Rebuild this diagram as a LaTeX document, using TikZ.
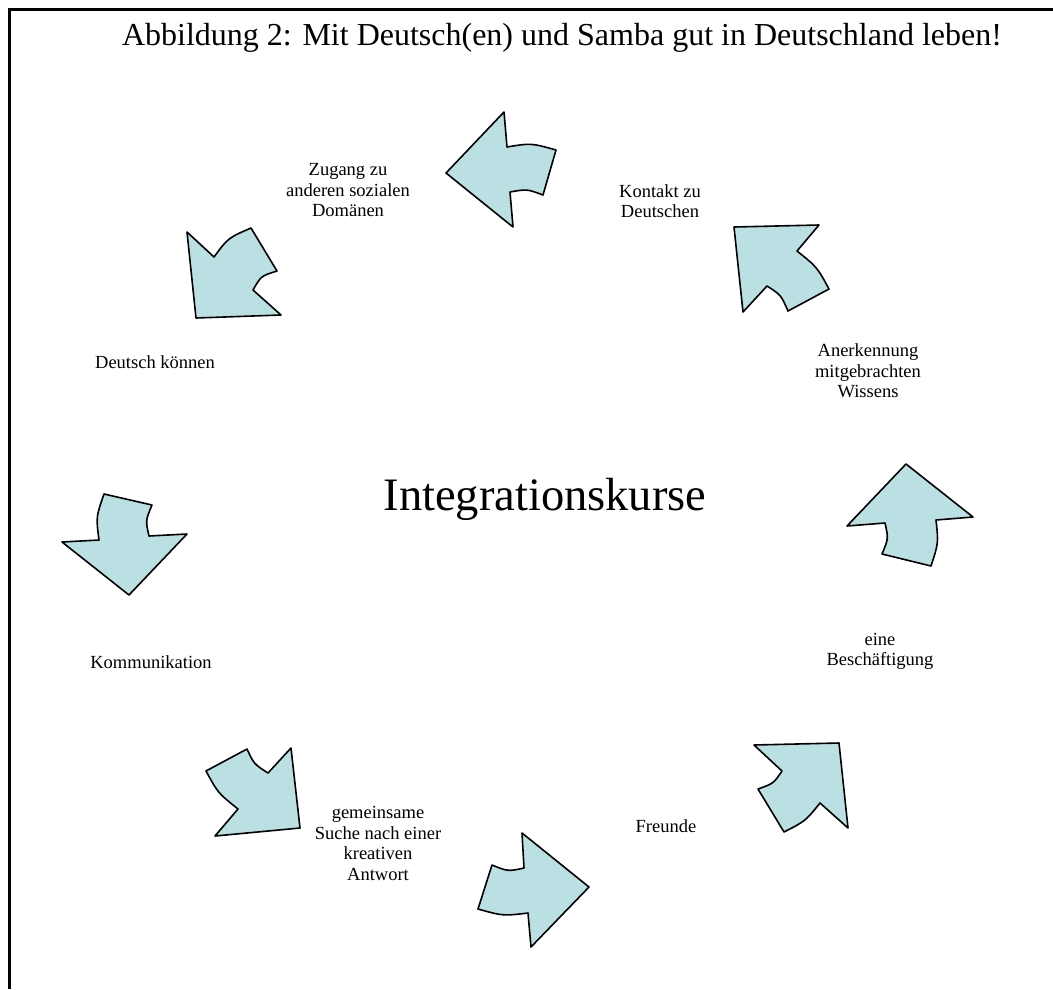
\documentclass[tikz,border=0pt]{standalone}
\usepackage{fontspec}
\setmainfont{Liberation Serif}
\definecolor{arrowfill}{RGB}{186,224,228}
\begin{document}
\begin{tikzpicture}[x=1pt,y=-1pt,
  blockarrow/.style={draw=black, fill=arrowfill, line width=1.6pt, line join=round},
  lbl/.style={align=center, inner sep=0pt, font=\fontsize{18.5}{20.5}\selectfont},
  frame/.style={line width=3pt}]
\useasboundingbox (0,0) rectangle (1053,989);
\fill[white] (0,0) rectangle (1053,989);
\draw[frame] (9,989) -- (9,9) -- (1053,9);

\node[anchor=base, inner sep=0pt, font=\fontsize{32}{36}\selectfont] (title) at (562,45)
  {Abbildung 2: Mit Deutsch(en) und Samba gut in Deutschland leben!};
\node[anchor=base, inner sep=0pt, font=\fontsize{46.5}{52}\selectfont] (center) at (545,510)
  {Integrationskurse};

% labels
\node[lbl] (zugang) at (348,190.5) {Zugang zu\\anderen sozialen\\Domänen};
\node[lbl] (kontakt) at (660,201) {Kontakt zu\\Deutschen};
\node[lbl] (deutsch) at (155,362) {Deutsch können};
\node[lbl] (anerkennung) at (868,371) {Anerkennung\\mitgebrachten\\Wissens};
\node[lbl] (kommunikation) at (151,662) {Kommunikation};
\node[lbl] (beschaeftigung) at (880,651.5) {eine\\Beschäftigung};
\node[lbl] (suche) at (378,843.5) {gemeinsame\\Suche nach einer\\kreativen\\Antwort};
\node[lbl] (freunde) at (666,826) {Freunde};

% arrow 1 (top, pointing left)
\draw[blockarrow] (446,173) -- (504,112) -- (507,147) .. controls (531,143) .. (556,150)
  -- (543,195) .. controls (527,189) .. (510,192) -- (513,227) -- cycle;
% arrow 2 (upper right, pointing up-left)
\draw[blockarrow] (734,227) -- (819,225) -- (797,251) .. controls (817,267) .. (829,289)
  -- (788,311) .. controls (781,295) .. (767,286) -- (743,312) -- cycle;
% arrow 3 (upper left, pointing down-left)
\draw[blockarrow] (196,318) -- (187,232) -- (214,257) .. controls (228,238) .. (251,228)
  -- (277,271) .. controls (261,276) .. (253,290) -- (281,315) -- cycle;
% arrow 4 (left, pointing down)
\draw[blockarrow] (129,595) -- (62,542) -- (99,540) .. controls (96,517) .. (104,494)
  -- (152,505) .. controls (145.5,520.5) .. (149,536) -- (187,534) -- cycle;
% arrow 5 (right, pointing up)
\draw[blockarrow] (906,464) -- (973,517) -- (936,520) .. controls (938.5,543) .. (931,566)
  -- (882,554) .. controls (888.5,538.5) .. (885,523) -- (847,526) -- cycle;
% arrow 6 (lower left, pointing down-right)
\draw[blockarrow] (300,828) -- (215,836) -- (238,809) .. controls (218,793) .. (206,771)
  -- (247,749) .. controls (254,764) .. (268,773) -- (291,748) -- cycle;
% arrow 7 (bottom, pointing right)
\draw[blockarrow] (589,887) -- (522,833) -- (524,868) .. controls (508,871.5) .. (492,865)
  -- (478,909) .. controls (503,916) .. (528,913) -- (531,947) -- cycle;
% arrow 8 (lower right, pointing up-right)
\draw[blockarrow] (839,743) -- (754,745) -- (782,771) .. controls (773.5,783.5) .. (758,789)
  -- (784,832) .. controls (805.5,821) .. (820,803) -- (848,828) -- cycle;
\end{tikzpicture}
\end{document}
